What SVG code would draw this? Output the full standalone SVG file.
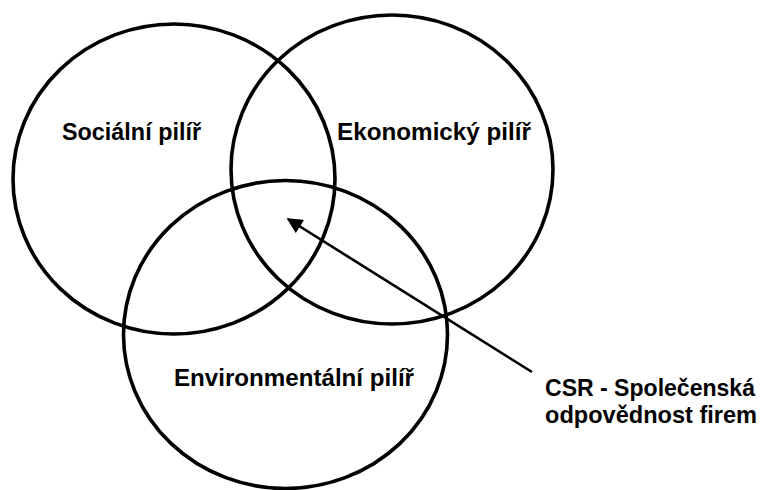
<svg xmlns="http://www.w3.org/2000/svg" width="771" height="490" viewBox="0 0 771 490">
<style>
.pillar{fill:none;stroke:#000;stroke-width:3.6}
.lbl{font-family:"Liberation Sans",Arial,sans-serif;font-weight:bold;font-size:24px;fill:#000}
.conn{stroke:#000;stroke-width:2.6;fill:none}
</style>
<defs>
<marker id="ah" viewBox="0 0 10 10" refX="9" refY="5" markerWidth="6.5" markerHeight="6" orient="auto" markerUnits="strokeWidth">
<path d="M0,0 L10,5 L0,10 Z" fill="#000"/>
</marker>
</defs>
<rect width="771" height="490" fill="#fff"/>
<g id="social">
<ellipse class="pillar" cx="174" cy="179" rx="161" ry="155"/>
<text class="lbl" x="62" y="140" textLength="139" lengthAdjust="spacingAndGlyphs">Sociální pilíř</text>
</g>
<g id="economic">
<ellipse class="pillar" cx="392" cy="169.5" rx="161" ry="154.5"/>
<text class="lbl" x="337" y="140" textLength="194" lengthAdjust="spacingAndGlyphs">Ekonomický pilíř</text>
</g>
<g id="environmental">
<ellipse class="pillar" cx="285.5" cy="334.5" rx="162" ry="154"/>
<text class="lbl" x="174" y="386" textLength="240" lengthAdjust="spacingAndGlyphs">Environmentální pilíř</text>
</g>
<g id="csr">
<text class="lbl" x="545" y="396" textLength="210" lengthAdjust="spacingAndGlyphs">CSR - Společenská</text>
<text class="lbl" x="545" y="423" textLength="212" lengthAdjust="spacingAndGlyphs">odpovědnost firem</text>
</g>
<g id="connectors">
<line class="conn" x1="532" y1="372" x2="288" y2="219" marker-end="url(#ah)"/>
</g>
</svg>
